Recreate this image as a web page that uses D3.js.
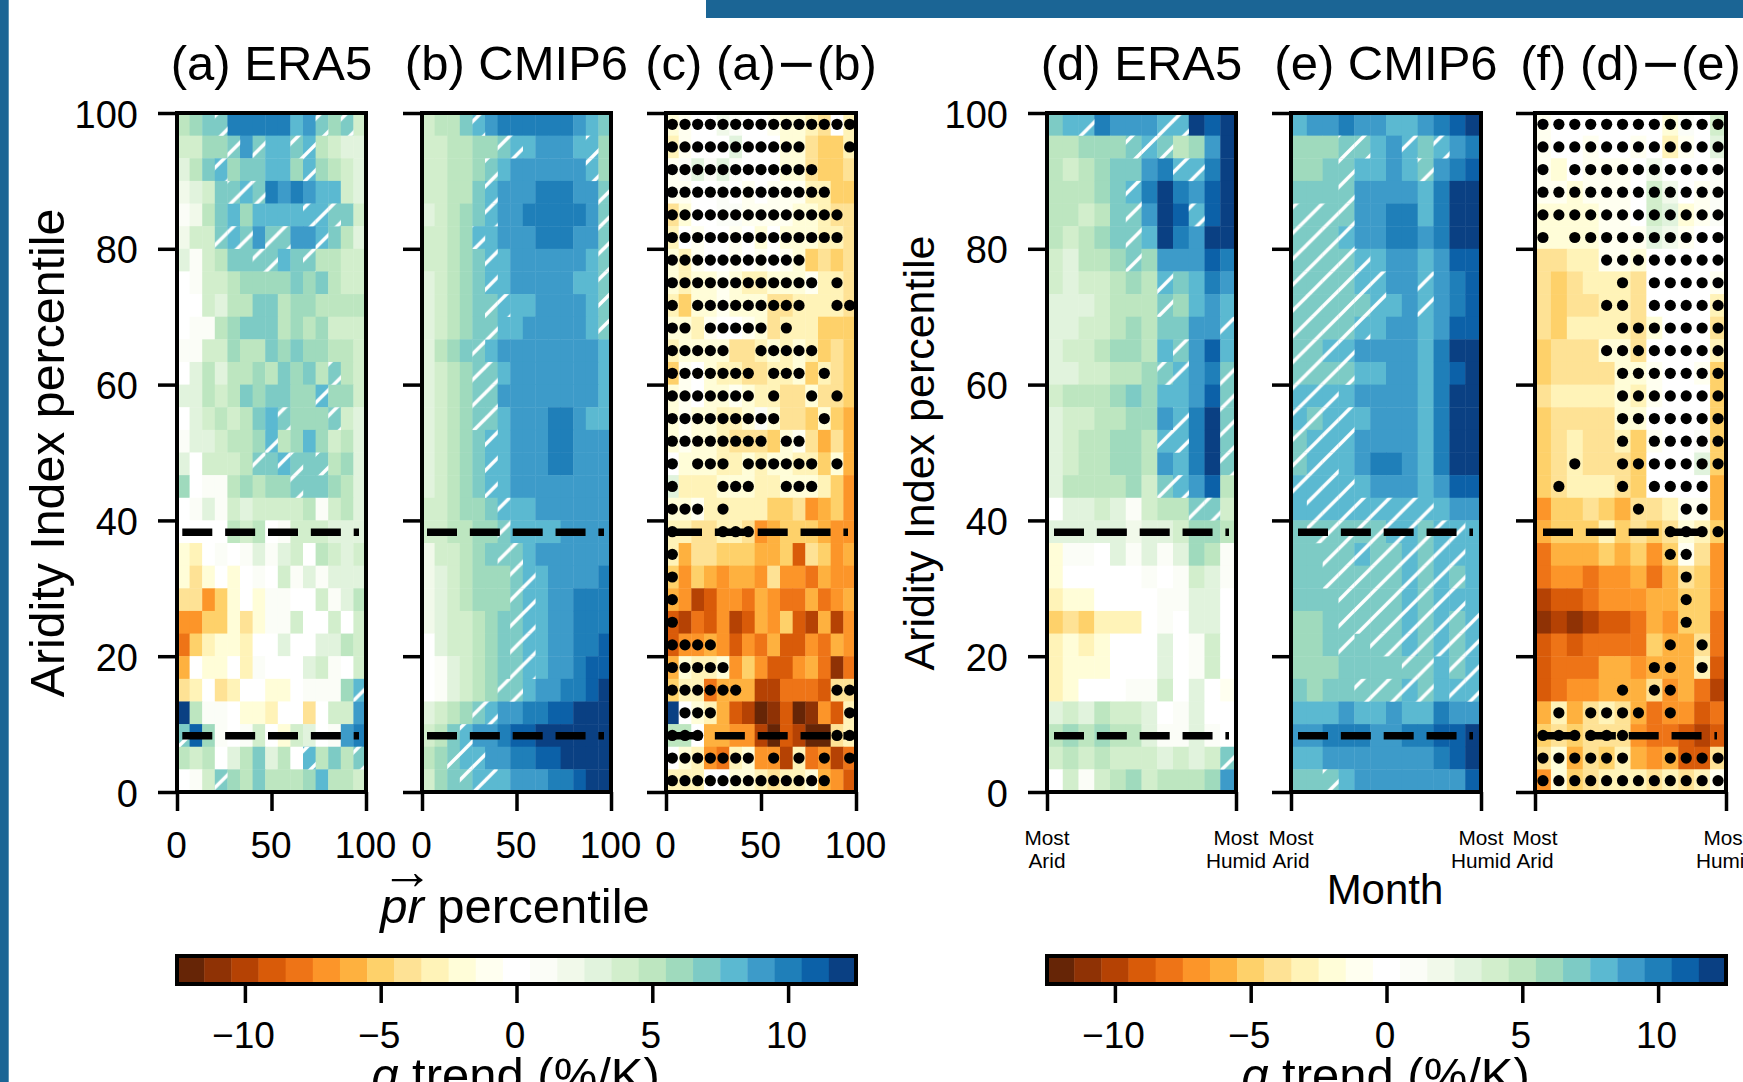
<!DOCTYPE html>
<html><head><meta charset="utf-8">
<script src="https://cdn.jsdelivr.net/npm/d3@7"></script>
<style>html,body{margin:0;padding:0;background:#fff;overflow:hidden}svg{display:block}text{font-family:"Liberation Sans",Arial,sans-serif;fill:#000}</style>
</head><body><svg id="c" width="1743" height="1082"></svg>
<script>
const levelColors=["#662506","#8f3205","#b54204","#d95b09","#ee7417","#fc9529","#feb13f","#fed16a","#fee295","#fff3b8","#fffdd8","#fffff0","#ffffff","#fbfdf7","#f1f9ea","#e1f3dd","#d2eecc","#bde6c0","#9fdabd","#7dcbc5","#5bb9d1","#3d9bc9","#1f7fb9","#0c61a8","#0a4083"];
const valuesA=[
[5,6,7,7,10,10,10,10,10,8,9,7,6,7,4],
[4,4,6,6,7,9,7,8,8,7,8,5,4,3,3],
[3,5,7,8,6,7,7,8,8,6,8,6,5,4,3],
[2,3,4,7,7,8,7,10,9,10,9,8,8,4,3],
[1,2,5,7,8,6,8,8,8,8,8,8,7,7,4],
[2,4,4,7,8,7,9,7,7,9,9,8,7,5,3],
[3,1,4,5,7,7,7,7,8,7,7,5,5,4,4],
[0,1,4,4,5,6,6,6,6,7,6,7,5,4,4],
[0,0,4,3,5,5,7,7,5,6,6,5,5,5,5],
[0,1,1,5,6,7,7,7,5,6,5,6,4,4,4],
[1,1,4,4,6,5,5,7,6,7,6,6,5,5,4],
[0,3,5,3,5,5,6,5,7,6,7,5,7,5,4],
[3,3,5,4,5,7,6,7,7,6,6,8,6,6,4],
[0,3,4,5,4,5,7,8,7,6,6,6,7,4,3],
[1,3,3,4,5,5,6,8,5,6,8,6,4,5,3],
[3,0,4,4,4,5,7,7,8,7,7,7,5,6,3],
[6,0,1,1,5,6,5,6,6,7,7,7,6,5,3],
[0,1,3,1,4,3,4,4,4,4,5,1,4,5,3],
[0,0,0,0,5,4,5,0,1,4,4,4,3,3,3],
[-2,-3,0,1,0,1,3,1,3,4,0,5,4,3,4],
[-2,-4,-2,0,-2,0,1,0,4,1,3,1,3,3,3],
[-4,-4,-7,-5,-2,0,-2,1,1,0,0,4,1,3,5],
[-7,-7,-5,-5,-2,-4,-2,1,1,4,0,0,4,0,4],
[-8,-5,-3,-2,-2,-3,0,0,3,0,0,3,3,5,4],
[-6,0,-2,-2,0,-3,1,0,0,0,3,4,1,0,4],
[-4,-3,0,-4,-3,0,0,-2,-2,0,1,1,1,6,8],
[12,5,1,1,0,-2,-2,-3,0,0,-4,0,4,4,9],
[7,11,6,1,0,1,4,0,-2,4,3,0,1,9,10],
[5,4,5,0,3,5,7,3,5,0,8,5,7,5,7],
[0,1,4,7,6,5,7,5,5,5,6,8,5,5,4]];
const hatchA=[[3,11,13],[4,6,9,10],[3,10],[4,5,6],[10,11,12],[3,4,5,7,8,11],[6,7,10],[],[],[],[],[12],[11],[8,12],[7],[6,8,9,11],[9],[],[],[],[],[],[],[],[],[14],[],[0],[10,14],[3]];
const valuesB=[
[4,5,5,7,8,9,10,10,10,10,10,10,9,8,7],
[4,4,5,5,6,6,7,8,8,9,9,9,8,8,6],
[4,4,5,5,6,7,8,9,9,9,9,9,9,8,6],
[4,4,5,5,7,8,9,9,9,10,10,10,9,9,7],
[3,4,5,6,7,8,9,9,10,10,10,10,10,9,7],
[4,4,5,6,8,8,9,9,9,10,10,10,9,9,7],
[4,4,5,6,7,8,8,9,9,9,9,9,9,8,7],
[3,4,5,6,7,8,8,9,9,9,9,9,8,8,7],
[3,4,5,6,7,7,8,8,8,9,9,9,9,8,7],
[3,4,5,6,7,7,8,8,9,9,9,9,9,8,7],
[3,5,6,7,7,8,9,9,9,9,9,9,9,9,8],
[3,4,5,6,7,7,8,9,9,9,9,9,9,9,8],
[3,4,5,6,7,7,9,9,9,9,9,9,9,9,8],
[3,4,5,6,7,7,8,9,9,9,10,10,9,8,8],
[3,4,5,6,7,8,8,9,9,9,10,10,9,9,9],
[3,4,5,6,7,8,8,9,9,9,10,10,9,9,9],
[3,4,5,6,7,8,8,9,9,9,9,9,9,9,9],
[4,4,5,6,6,7,8,8,8,9,9,9,9,9,9],
[4,4,5,5,6,6,7,8,8,8,8,9,9,9,9],
[2,4,4,5,6,7,7,7,8,9,9,9,9,9,9],
[2,3,4,5,6,6,6,7,8,8,9,9,9,9,10],
[2,3,4,5,6,6,6,7,8,8,9,9,10,10,10],
[2,3,4,4,5,6,7,7,8,8,9,9,10,10,10],
[0,3,4,4,5,6,7,7,8,8,9,9,10,10,11],
[0,1,3,4,5,6,7,7,8,8,9,9,10,11,11],
[0,1,3,4,5,6,7,7,8,9,9,10,10,11,12],
[3,4,5,6,7,8,9,9,10,10,11,11,12,12,12],
[4,5,7,8,9,9,10,11,11,12,12,12,12,12,12],
[5,6,7,8,8,9,9,10,10,11,11,12,12,12,12],
[4,6,7,7,8,8,8,9,9,9,10,10,11,12,12]];
const hatchB=[[4],[6,7,13],[5,13],[5,14],[5,14],[4,14],[5,14],[5,14],[5,6,14],[5,14],[4],[4,5],[4,5],[4,5],[5],[5],[5],[6],[6],[6,7],[7,8],[7,8],[7,8],[7,8],[7,8],[6,7],[4,5],[3],[2,3,4],[3,4,5]];
const valuesC=[
[-2,-1,0,0,2,1,0,0,-1,-2,-2,-3,-4,0,-3],
[-3,-1,0,0,0,3,0,0,0,-2,-2,-4,-5,-5,-3],
[-1,1,3,1,3,1,0,0,0,-2,-2,-4,-5,-5,-4],
[-1,-1,0,0,1,0,-1,0,-1,-1,-1,-3,-3,-5,-5],
[-4,-2,0,0,1,1,-1,-1,-1,-1,-2,-2,-3,-4,-4],
[-3,0,-1,0,0,-1,0,-2,0,-2,-2,-2,-3,-3,-4],
[-2,-3,-1,0,0,-1,0,-1,0,-1,-2,-5,-4,-5,-4],
[-2,-3,-2,-2,-1,-2,-3,-3,-2,-2,-2,-1,-3,-3,-4],
[-3,-5,-2,-2,-1,-2,-2,-2,-4,-4,-3,-3,-3,-3,-4],
[-2,-2,-3,-1,0,0,-1,-2,-4,-3,-3,-3,-5,-5,-5],
[-3,-2,-2,-2,-2,-4,-4,-3,-2,-3,-2,-3,-5,-4,-5],
[-5,-1,0,-2,-3,-3,-4,-4,-3,-3,-2,-5,-3,-4,-5],
[-2,-1,0,-2,-2,-1,-2,-3,-3,-4,-4,-2,-4,-4,-5],
[-2,-1,-2,-2,-3,-3,-2,1,-2,-4,-4,-5,-2,-5,-6],
[-2,-1,-2,-2,-3,-4,-4,-4,-5,-2,-1,-4,-6,-4,-6],
[0,-2,-2,-2,-3,-3,-2,-3,-2,-2,-3,-3,-5,-2,-6],
[3,-3,-3,-3,-2,-2,-2,-3,-3,-2,-2,-2,-3,-5,-7],
[-2,-2,-1,-3,-3,-3,-3,-3,-5,-5,-4,-7,-6,-5,-7],
[-3,-3,-4,-4,-3,-3,-4,-7,-6,-5,-5,-5,-6,-7,-7],
[-3,-6,-4,-4,-5,-5,-5,-6,-6,-5,-9,-4,-5,-7,-6],
[-5,-7,-5,-6,-7,-6,-6,-7,-4,-7,-7,-8,-6,-7,-7],
[-6,-7,-10,-9,-7,-7,-8,-6,-7,-8,-8,-6,-8,-7,-6],
[-9,-10,-8,-9,-7,-10,-9,-6,-7,-5,-9,-10,-6,-10,-7],
[-9,-7,-7,-6,-7,-9,-7,-8,-6,-9,-9,-7,-8,-6,-7],
[-6,-2,-3,-3,-2,-7,-5,-7,-9,-9,-7,-6,-8,-11,-8],
[-5,-3,-3,-8,-6,-6,-6,-10,-10,-8,-8,-8,-9,-4,-4],
[12,0,-2,-3,-6,-9,-10,-12,-11,-9,-12,-11,-7,-9,-3],
[5,5,0,-6,-6,-7,-7,-10,-12,-9,-10,-12,-12,-4,-3],
[0,-2,-3,-7,-8,-3,-2,-7,-7,-10,-3,-8,-7,-10,-8],
[-3,-3,-3,0,0,-2,-2,-3,-4,-3,-3,-2,-6,-7,-9]];
const dotsC=[
[0,1,2,3,4,5,6,7,8,9,10,11,12,13,14],
[0,1,2,3,4,5,6,7,8,9,10,14],
[0,1,2,3,4,5,6,7,8,9,10,11],
[0,1,2,3,4,5,6,7,8,9,10,11,12],
[0,1,2,3,4,5,6,7,8,9,10,11,12,13],
[0,1,2,3,4,5,6,7,8,9,10,11,12,13],
[0,1,2,3,4,5,6,7,8,9,10],
[0,1,2,3,4,5,6,7,8,9,10,11,13],
[0,2,3,4,5,6,7,8,9,10,13,14],
[0,1,3,4,5,6,7,9],
[0,1,2,3,4,7,8,9,10,11],
[0,1,2,3,4,5,6,8,9,10,12],
[0,1,2,3,4,5,6,8,11,13],
[0,1,2,3,4,5,6,7,8,12],
[0,1,2,3,4,5,6,7,9,10],
[0,2,3,4,6,7,8,9,10,11,13],
[0,4,5,6,9,10,11],
[0,1,2,4],
[0,4,5,6],
[0],[0],[0],[0],
[0,1,2,3],
[0,1,2,3,4],
[0,1,2,3,4,5,13,14],
[1,2,3,14],
[0,1,2,13,14],
[0,1,2,3,4,5,6,8,10,12,14],
[0,1,2,3,4,5,6,7,8,9,10,11,12]];
const valuesD=[
[7,8,8,10,9,9,9,8,8,12,11,12],
[5,5,6,6,6,7,8,7,5,6,9,12],
[5,4,5,6,7,7,9,10,8,8,10,12],
[5,5,5,6,7,8,10,12,10,9,11,12],
[5,5,4,5,7,7,9,12,11,8,11,12],
[5,4,5,6,7,7,8,12,10,9,12,12],
[4,3,5,5,6,7,6,9,9,9,11,10],
[4,3,4,4,5,6,5,8,7,8,10,9],
[3,3,3,4,5,5,5,7,6,8,9,8],
[3,3,4,4,5,6,5,7,7,9,9,8],
[3,4,4,5,6,6,5,8,7,9,11,8],
[3,3,4,4,5,5,6,7,8,9,10,7],
[4,5,5,5,6,7,6,8,8,9,11,7],
[3,4,4,5,5,6,6,9,8,10,12,7],
[3,4,5,5,6,6,5,8,8,10,12,7],
[3,4,5,5,6,6,5,9,8,10,12,7],
[3,5,5,5,5,6,4,7,8,9,11,5],
[0,3,3,4,3,1,4,5,5,7,7,4],
[3,3,3,3,3,2,3,3,4,6,6,5],
[-2,1,1,0,3,1,3,1,3,6,5,1],
[-2,0,0,0,0,0,1,0,1,4,3,1],
[-3,-2,-2,0,0,0,0,1,1,3,3,0],
[-5,-4,-5,-3,-3,-3,0,1,0,3,3,0],
[-3,-2,-3,-2,0,0,0,3,0,1,4,0],
[-3,-2,-2,-2,0,0,0,3,0,1,4,0],
[-3,-2,0,0,0,1,1,4,0,3,0,-1],
[3,4,3,5,4,4,3,0,1,3,0,0],
[5,6,5,6,5,5,3,1,1,3,1,0],
[4,5,4,5,4,4,4,3,4,3,4,7],
[0,4,1,4,5,6,4,5,5,5,6,9]];
const hatchD=[[2,7,8],[5,6,7],[8,9],[5],[5,9],[5],[5],[7],[7],[11],[8],[7,8,11],[11],[8,11],[7,8,11],[11],[7,8],[9,10],[],[],[],[],[],[],[],[],[],[],[11],[]];
const valuesE=[
[8,9,9,10,9,9,8,8,9,10,11,12],
[6,6,6,7,7,8,9,8,7,8,9,10],
[6,6,7,7,8,8,9,8,7,9,10,11],
[7,7,7,7,9,9,9,9,8,10,12,12],
[7,7,7,7,9,9,10,10,8,10,12,12],
[7,7,7,8,9,9,10,10,9,10,12,12],
[7,7,7,7,8,8,9,9,8,9,11,11],
[7,7,7,7,8,8,9,9,8,9,10,11],
[7,7,7,7,7,8,8,9,8,9,10,11],
[7,7,7,7,8,8,9,9,8,9,11,11],
[7,7,8,8,9,9,9,9,8,10,12,12],
[7,7,7,7,8,8,9,9,8,10,11,12],
[8,8,8,8,9,9,9,9,8,10,12,12],
[8,7,8,8,8,9,9,9,8,10,12,12],
[7,8,8,8,9,9,9,9,8,10,12,12],
[7,8,8,8,9,10,10,9,8,10,12,12],
[8,8,8,8,8,9,9,9,8,9,11,11],
[8,8,8,8,8,8,8,8,8,8,9,9],
[7,7,7,7,7,7,8,8,7,8,8,8],
[7,7,7,7,8,7,7,8,7,8,8,8],
[7,7,7,7,7,7,7,8,7,8,7,8],
[7,7,7,7,7,7,7,8,7,8,8,8],
[6,6,7,7,7,7,7,8,7,8,7,8],
[6,6,7,7,7,7,7,8,7,8,7,8],
[6,6,6,7,7,7,7,7,7,8,7,8],
[7,6,7,7,7,7,7,8,7,8,8,8],
[8,8,8,9,8,8,9,8,8,10,9,9],
[9,9,10,10,10,9,9,10,10,11,11,12],
[8,8,9,9,9,9,9,9,9,10,11,12],
[7,7,7,8,9,9,9,9,9,9,9,11]];
const hatchE=[[],[3,4,7,9],[3,8],[3],[0,1,2,3],[0,1,2,3],[0,1,2,3,4],[0,1,2,3,4,5,8],[0,1,2,3,4,5,8],[0,1,2,3,4],[0,1,2,3],[0,1,2,3],[0,1,2],[0,1,2,3],[0,1,2,3],[0,1,2],[0,1,2,3],[1,2,3,4,5,6,7,8],[1,2,3,4,5,6,7,8,9,10],[2,3,4,5,6,7,8,9,10],[2,3,4,5,6,7,8,9,10],[3,4,5,6,7,8,9,10],[3,4,5,6,7,8,9,10,11],[3,5,6,7,8,9,10,11],[7,8,10,11],[4,5,6,7,8,10,11],[],[],[],[2]];
const valuesF=[
[-1,0,0,0,0,0,0,0,-2,1,0,4],
[-1,0,0,-1,0,0,-1,0,-3,-1,0,3],
[-1,-2,0,-1,-1,-1,0,2,0,0,0,1],
[-1,-1,-2,-1,-1,-1,0,4,2,0,-1,1],
[-2,-2,-2,-2,-1,-1,0,4,3,-2,-1,1],
[-2,-2,-2,-2,-1,-1,-1,3,2,-1,0,0],
[-4,-4,-3,-3,-1,-1,-2,0,0,0,0,0],
[-4,-5,-4,-3,-3,-3,-4,0,0,0,0,-1],
[-4,-5,-4,-4,-3,-3,-4,0,0,0,0,-3],
[-4,-5,-3,-3,-3,-3,-4,-2,0,0,0,-4],
[-5,-4,-4,-4,-2,-2,-4,0,0,0,0,-3],
[-5,-4,-4,-4,-4,-2,-2,-1,0,0,-1,-5],
[-4,-3,-3,-3,-3,-2,-3,-1,0,0,0,-5],
[-5,-4,-4,-4,-4,-2,-2,0,0,0,0,-5],
[-5,-4,-3,-4,-4,-3,-5,-1,0,0,1,-5],
[-5,-4,-3,-4,-4,-4,-5,0,0,0,3,-5],
[-5,-4,-3,-3,-3,-4,-5,0,0,0,0,-6],
[-7,-5,-5,-4,-5,-6,-4,-4,-3,-1,-1,-6],
[-6,-5,-5,-5,-3,-5,-4,-5,-4,-2,-3,-5],
[-8,-6,-6,-6,-5,-6,-5,-7,-5,-1,-4,-7],
[-8,-7,-7,-8,-7,-7,-6,-8,-6,-4,-5,-7],
[-10,-9,-9,-8,-7,-7,-7,-6,-6,-5,-5,-7],
[-11,-10,-11,-10,-9,-9,-8,-6,-7,-5,-5,-8],
[-9,-8,-9,-8,-8,-8,-8,-5,-6,-6,-4,-8],
[-9,-8,-8,-8,-6,-6,-7,-6,-6,-6,-3,-9],
[-9,-8,-7,-7,-6,-6,-6,-4,-7,-6,-8,-10],
[-6,-3,-6,-4,-3,-4,-6,-8,-7,-7,-9,-8],
[-5,-4,-5,-4,-4,-4,-7,-8,-8,-9,-10,-9],
[-4,-2,-6,-4,-5,-3,-6,-7,-6,-9,-9,-4],
[-7,-2,-5,-4,-3,-3,-3,-4,-3,-4,-3,-1]];
const dotsF=[
[0,1,2,3,4,5,6,7,8,9,10,11],
[0,1,2,3,4,5,6,7,8,9,10,11],
[0,2,3,4,5,6,7,8,9,10,11],
[0,1,2,3,4,5,6,7,8,9,10,11],
[0,1,2,3,4,5,6,7,8,9,10,11],
[0,2,3,4,5,6,7,8,9,10,11],
[4,5,6,7,8,9,10,11],
[5,7,8,9,10,11],
[4,5,7,8,9,10,11],
[5,6,7,8,9,10,11],
[4,5,6,7,8,9,10,11],
[5,6,7,8,9,10,11],
[5,6,7,8,9,10,11],
[5,6,7,8,9,10,11],
[5,7,8,9,10,11],
[2,5,6,7,8,9,10,11],
[1,5,7,8,9,10],
[6,9,10],
[8,9,10,11],
[8,9],[9],[9],[9],
[8,10],
[7,8,10],
[5,7,8],
[1,3,4,5,6,8],
[0,1,2,3,4,5],
[0,1,2,3,4,5,8,9,10,11],
[0,1,2,3,4,5,6,7,8,9,10,11]];
const dashedLevels=[38.25,8.3];
const yTicks=[0,20,40,60,80,100];
const xTicksPct=[0,50,100];
const cbarTicks=[-10,-5,0,5,10];
const panels=[
 {t:"(a) ERA5",v:valuesA,h:hatchA,x0:177,x1:366,ph:21,dash:5.3,yl:true,kind:"pct",ylf:48.3},
 {t:"(b) CMIP6",v:valuesB,h:hatchB,x0:422,x1:611,ph:0,dash:5,kind:"pct"},
 {t:"(c) (a)\u2212(b)",v:valuesC,d:dotsC,x0:666,x1:856,dash:6,kind:"pct"},
 {t:"(d) ERA5",v:valuesD,h:hatchD,x0:1047,x1:1236,ph:2.5,dash:7,yl:true,kind:"mon",ylf:43},
 {t:"(e) CMIP6",v:valuesE,h:hatchE,x0:1291,x1:1481,ph:1.9,dash:7,kind:"mon"},
 {t:"(f) (d)\u2212(e)",v:valuesF,d:dotsF,x0:1535,x1:1726,dash:8,kind:"mon"}];
const yTop=113,yBot=792;
const svg=d3.select("#c");
const color=d3.scaleQuantize().domain([-12.5,12.5]).range(levelColors);
const barColor="#1b6595";
svg.append("rect").attr("x",0).attr("y",0).attr("width",8.7).attr("height",1082).attr("fill",barColor);
svg.append("rect").attr("x",706).attr("y",0).attr("width",1037).attr("height",18).attr("fill",barColor);
const defs=svg.append("defs");
const hatchSize=25.83;
const yLin=d3.scaleLinear().domain([0,100]).range([yBot,yTop]);
function styleAxis(g){g.select(".domain").remove();g.selectAll(".tick line").attr("stroke","#000").attr("stroke-width",3.5);g.selectAll(".tick text").style("font-family",'"Liberation Sans"');}
panels.forEach((p,pi)=>{
  const rows=d3.range(30),cols=d3.range(p.v[0].length);
  const xB=d3.scaleBand().domain(cols).range([p.x0,p.x1]);
  const yB=d3.scaleBand().domain(rows).range([yTop,yBot]);
  const g=svg.append("g");
  p.v.forEach((row,r)=>{
    g.selectAll(null).data(row).join("rect")
     .attr("x",(d,c)=>xB(c)).attr("y",yB(r)).attr("width",xB.bandwidth()+.4).attr("height",yB.bandwidth()+.4)
     .attr("fill",d=>color(d));
  });
  if(p.h){
    const id="hp"+pi;
    defs.append("pattern").attr("id",id).attr("patternUnits","userSpaceOnUse")
     .attr("width",hatchSize).attr("height",hatchSize).attr("patternTransform",`translate(${p.ph},0)`)
     .append("path").attr("d",`M-4,4L4,-4M0,${hatchSize}L${hatchSize},0M${hatchSize-4},${hatchSize+4}L${hatchSize+4},${hatchSize-4}`)
     .attr("stroke","#fff").attr("stroke-width",3.4);
    p.h.forEach((cs,r)=>{
      g.selectAll(null).data(cs).join("rect").attr("x",c=>xB(c)).attr("y",yB(r)).attr("width",xB.bandwidth()+.2).attr("height",yB.bandwidth()+.2).attr("fill",`url(#${id})`);
    });
  }
  if(p.d){
    p.d.forEach((cs,r)=>{
      g.selectAll(null).data(cs).join("circle").attr("cx",c=>xB(c)+xB.bandwidth()/2).attr("cy",yB(r)+yB.bandwidth()/2).attr("r",5.6).attr("fill","#000");
    });
  }
  const xPct=d3.scaleLinear().domain([0,100]).range([p.x0,p.x1]);
  dashedLevels.forEach(l=>{
    g.append("line").attr("x1",p.x0+p.dash).attr("x2",p.x0+182).attr("y1",yLin(l)).attr("y2",yLin(l))
     .attr("stroke","#000").attr("stroke-width",7.5).attr("stroke-dasharray","30 12.85");
  });
  g.append("rect").attr("x",p.x0).attr("y",yTop).attr("width",p.x1-p.x0).attr("height",yBot-yTop).attr("fill","none").attr("stroke","#000").attr("stroke-width",4);
  const ay=svg.append("g").attr("transform",`translate(${p.x0},0)`).call(d3.axisLeft(yLin).tickValues(yTicks).tickSize(19).tickPadding(20).tickFormat(p.yl?d3.format("d"):""));
  styleAxis(ay);ay.selectAll(".tick text").attr("font-size",38).attr("fill","#000").attr("y",2);
  if(p.kind==="pct"){
    const ax=svg.append("g").attr("transform",`translate(0,${yBot})`).call(d3.axisBottom(xPct).tickValues(xTicksPct).tickSize(19).tickPadding(0).tickFormat(d3.format("d")));
    styleAxis(ax);ax.selectAll(".tick text").attr("font-size",37).attr("y",66).attr("x",-1).attr("dy",0);
  }else{
    const ax=svg.append("g").attr("transform",`translate(0,${yBot})`).call(d3.axisBottom(xPct).tickValues([0,100]).tickSize(19).tickFormat(""));
    styleAxis(ax);
    [[p.x0,"Arid"],[p.x1,"Humid"]].forEach(([x,w])=>{
      svg.append("text").attr("x",x).attr("y",845).attr("text-anchor","middle").attr("font-size",20.8).text("Most");
      svg.append("text").attr("x",x).attr("y",868).attr("text-anchor","middle").attr("font-size",20.8).text(w);
    });
  }
  const tt=svg.append("text").attr("x",(p.x0+p.x1)/2).attr("y",80).attr("text-anchor","middle").attr("font-size",49);
  p.t.split(/(\u2212)/).forEach(s=>{
    const sp=tt.append("tspan").text(s);
    if(s==="\u2212") sp.style("font-family",'"DejaVu Sans"');
  });
  if(p.yl){
    const cx=p.x0-(pi===0?129:127);
    svg.append("text").attr("transform",`translate(${cx+(pi===0?16:14)},453) rotate(-90)`).attr("text-anchor","middle").attr("font-size",p.ylf).text("Aridity Index percentile");
  }
});
// x labels
const xl=svg.append("text").attr("x",515).attr("y",923).attr("text-anchor","middle").attr("font-size",49);
xl.append("tspan").attr("font-style","italic").text("pr");
xl.append("tspan").text(" percentile");
svg.append("text").attr("x",407).attr("y",889).attr("text-anchor","middle").attr("font-size",52).text("\u2192");
svg.append("text").attr("x",1385).attr("y",904).attr("text-anchor","middle").attr("font-size",42).text("Month");
// colorbars
[[177,856],[1047,1726]].forEach(([a,b])=>{
  const cx=d3.scaleLinear().domain([-12.5,12.5]).range([a,b]);
  const cg=svg.append("g");
  cg.selectAll("rect").data(levelColors).join("rect")
   .attr("x",(d,i)=>cx(i-12.5)).attr("y",956).attr("width",(b-a)/25+.4).attr("height",28).attr("fill",d=>d);
  cg.append("rect").attr("x",a).attr("y",956).attr("width",b-a).attr("height",28).attr("fill","none").attr("stroke","#000").attr("stroke-width",4);
  const ax=svg.append("g").attr("transform","translate(0,984)").call(d3.axisBottom(cx).tickValues(cbarTicks).tickSize(19).tickFormat(d=>d<0?"\u2212"+(-d):d));
  styleAxis(ax);ax.selectAll(".tick text").attr("font-size",37).attr("dy",0).attr("y",64).attr("x",-2);
  const l=svg.append("text").attr("x",(a+b)/2-1).attr("y",1092).attr("text-anchor","middle").attr("font-size",49);
  l.append("tspan").attr("font-style","italic").text("q");
  l.append("tspan").text(" trend (%/K)");
});
</script></body></html>
